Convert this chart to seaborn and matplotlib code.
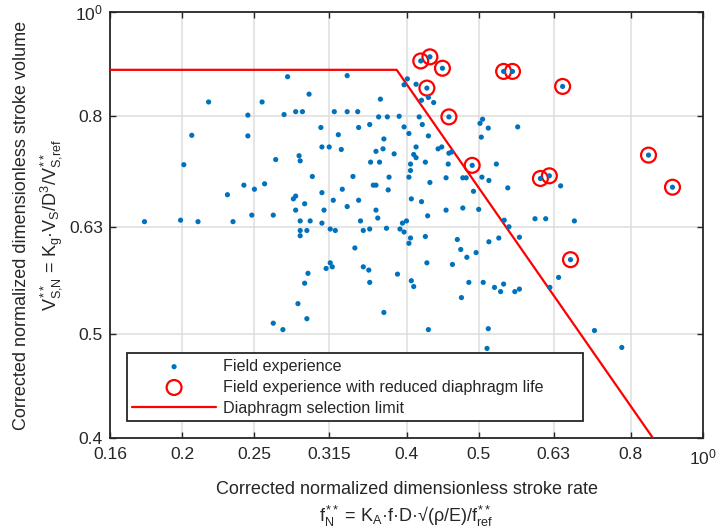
import numpy as np
import pandas as pd
import matplotlib
matplotlib.use("Agg")
import matplotlib.pyplot as plt
import seaborn as sns
from matplotlib.ticker import FixedLocator, FixedFormatter, NullLocator

# ---------------- data ----------------
field_x = [0.277, 0.296, 0.217, 0.256, 0.245, 0.274, 0.284, 0.290, 0.206, 0.245,
           0.287, 0.288, 0.267, 0.201, 0.242, 0.258, 0.250, 0.230, 0.282, 0.284,
           0.292, 0.284, 0.248, 0.265, 0.178, 0.199, 0.210, 0.234, 0.288, 0.288,
           0.294, 0.288, 0.295, 0.292, 0.286, 0.294, 0.265, 0.273, 0.297,
           0.333, 0.369, 0.320, 0.333, 0.344, 0.367, 0.377, 0.391, 0.401, 0.397,
           0.412, 0.419, 0.428, 0.435, 0.416, 0.420, 0.307, 0.345, 0.357, 0.324,
           0.373, 0.397, 0.403, 0.428, 0.308, 0.315, 0.327, 0.364, 0.372, 0.385,
           0.412, 0.409, 0.412, 0.441, 0.446, 0.456, 0.460, 0.358, 0.368, 0.405,
           0.405, 0.424, 0.455, 0.528, 0.502, 0.506, 0.515, 0.504, 0.299, 0.339,
           0.379, 0.403, 0.452, 0.476, 0.481, 0.505, 0.516, 0.361, 0.364, 0.328,
           0.378, 0.430, 0.492, 0.547, 0.308, 0.319, 0.345, 0.406, 0.419, 0.333,
           0.310, 0.364, 0.366, 0.427, 0.452, 0.476, 0.500, 0.308, 0.347, 0.400,
           0.395, 0.316, 0.321, 0.350, 0.357, 0.376, 0.392, 0.397, 0.405, 0.403,
           0.424, 0.468, 0.516, 0.532, 0.549, 0.341, 0.473,
           0.316, 0.312, 0.318, 0.350, 0.356, 0.357, 0.389, 0.373, 0.426, 0.406,
           0.409, 0.428, 0.482, 0.496, 0.461, 0.485, 0.474, 0.507, 0.525, 0.535,
           0.540, 0.515, 0.513, 0.567, 0.541, 0.595, 0.615, 0.672, 0.640, 0.623,
           0.559, 0.567, 0.715, 0.778, 0.564, 0.644,
           0.418, 0.430, 0.447, 0.426, 0.456, 0.490, 0.540, 0.555, 0.648, 0.605,
           0.622, 0.845, 0.910, 0.664]
field_y = [0.870, 0.838, 0.824, 0.824, 0.801, 0.802, 0.807, 0.807, 0.767, 0.766,
           0.734, 0.726, 0.728, 0.720, 0.689, 0.691, 0.683, 0.675, 0.669, 0.673,
           0.662, 0.653, 0.646, 0.646, 0.637, 0.639, 0.637, 0.637, 0.638, 0.625,
           0.625, 0.618, 0.570, 0.558, 0.534, 0.517, 0.512, 0.505, 0.638,
           0.872, 0.829, 0.807, 0.807, 0.807, 0.798, 0.798, 0.799, 0.866, 0.855,
           0.856, 0.827, 0.832, 0.823, 0.798, 0.785, 0.780, 0.780, 0.785, 0.768,
           0.761, 0.781, 0.770, 0.766, 0.748, 0.748, 0.744, 0.741, 0.745, 0.737,
           0.748, 0.736, 0.731, 0.745, 0.748, 0.738, 0.740, 0.724, 0.724, 0.721,
           0.711, 0.724, 0.721, 0.721, 0.787, 0.794, 0.779, 0.764, 0.702, 0.702,
           0.701, 0.701, 0.700, 0.700, 0.700, 0.701, 0.696, 0.689, 0.689, 0.683,
           0.682, 0.693, 0.680, 0.685, 0.678, 0.667, 0.667, 0.669, 0.665, 0.658,
           0.653, 0.653, 0.642, 0.645, 0.653, 0.656, 0.654, 0.635, 0.638, 0.638,
           0.635, 0.627, 0.625, 0.625, 0.627, 0.628, 0.627, 0.623, 0.615, 0.608,
           0.617, 0.613, 0.610, 0.615, 0.630, 0.602, 0.600,
           0.583, 0.576, 0.578, 0.578, 0.574, 0.559, 0.569, 0.524, 0.583, 0.561,
           0.554, 0.505, 0.590, 0.596, 0.581, 0.559, 0.541, 0.559, 0.553, 0.548,
           0.557, 0.506, 0.485, 0.616, 0.639, 0.641, 0.641, 0.638, 0.565, 0.553,
           0.548, 0.551, 0.504, 0.486, 0.781, 0.688,
           0.900, 0.908, 0.886, 0.849, 0.798, 0.719, 0.880, 0.880, 0.852, 0.699,
           0.703, 0.735, 0.686, 0.587]

reduced_x = [0.418, 0.430, 0.447, 0.426, 0.456, 0.490, 0.540, 0.555, 0.648, 0.605,
             0.622, 0.845, 0.910, 0.664]
reduced_y = [0.900, 0.908, 0.886, 0.849, 0.798, 0.719, 0.880, 0.880, 0.852, 0.699,
             0.703, 0.735, 0.686, 0.587]

limit_x = [0.16, 0.388, 1.0]
limit_y = [0.883, 0.883, 0.3426]

x_ticks = [0.16, 0.2, 0.25, 0.315, 0.4, 0.5, 0.63, 0.8, 1.0]
x_tick_labels = ["0.16", "0.2", "0.25", "0.315", "0.4", "0.5", "0.63", "0.8", "$10^0$"]
y_ticks = [0.4, 0.5, 0.63, 0.8, 1.0]
y_tick_labels = ["0.4", "0.5", "0.63", "0.8", "$10^0$"]

labels = ["Field experience", "Field experience with reduced diaphragm life",
          "Diaphragm selection limit"]

x_label = ("Corrected normalized dimensionless stroke rate\n"
           r"$f_N^{**}$ = $K_A$·f·D·√(ρ/E)/$f_{ref}^{**}$")
y_label = ("Corrected normalized dimensionless stroke volume\n"
           r"$V_{S{,}N}^{**}$ = $K_g$·$V_S$/D$^3$/$V_{S{,}ref}^{**}$")

# ---------------- style ----------------
sns.set_theme(style="white")
plt.rcParams["font.family"] = ["Liberation Sans", "DejaVu Sans"]
plt.rcParams["mathtext.fontset"] = "custom"
plt.rcParams["mathtext.rm"] = "Liberation Sans"
plt.rcParams["mathtext.it"] = "Liberation Sans"
plt.rcParams["mathtext.bf"] = "Liberation Sans:bold"
plt.rcParams["mathtext.sf"] = "Liberation Sans"

FS_TICK = 12.6
FS_LABEL = 13.0
FS_LEG = 11.6
BLUE = "#0072BD"
RED = "#FF0000"
DARK = "#262626"

fig = plt.figure(figsize=(7.17, 5.32), dpi=100)
ax = fig.add_axes([0.1534, 0.1767, 0.8271, 0.8008])

df_field = pd.DataFrame({"x": field_x, "y": field_y})
df_red = pd.DataFrame({"x": reduced_x, "y": reduced_y})
df_lim = pd.DataFrame({"x": limit_x, "y": limit_y})

sns.lineplot(data=df_lim, x="x", y="y", ax=ax, color=RED, linewidth=1.6,
             sort=False, estimator=None, label=labels[2], zorder=3)
sns.scatterplot(data=df_red, x="x", y="y", ax=ax, s=115, marker="o",
                facecolors="none", edgecolor=RED, linewidth=1.6,
                label=labels[1], zorder=4)
sns.scatterplot(data=df_field, x="x", y="y", ax=ax, s=14, color=BLUE,
                edgecolor="none", linewidth=0, label=labels[0], zorder=5)

ax.set_xscale("log")
ax.set_yscale("log")
ax.set_xlim(0.16, 1.0)
ax.set_ylim(0.4, 1.0)
ax.xaxis.set_major_locator(FixedLocator(x_ticks))
ax.xaxis.set_major_formatter(FixedFormatter(x_tick_labels))
ax.yaxis.set_major_locator(FixedLocator(y_ticks))
ax.yaxis.set_major_formatter(FixedFormatter(y_tick_labels))
ax.xaxis.set_minor_locator(NullLocator())
ax.yaxis.set_minor_locator(NullLocator())

ax.grid(True, color="#dedede", linewidth=1.1)
ax.set_axisbelow(True)
for sp in ax.spines.values():
    sp.set_visible(True)
    sp.set_color(DARK)
    sp.set_linewidth(1.3)
ax.tick_params(axis="both", which="major", direction="in", length=4.5, width=1.0,
               color=DARK, labelsize=FS_TICK, labelcolor=DARK,
               top=True, right=True, bottom=True, left=True, pad=5)
ax.tick_params(axis="x", pad=6.5)

ax.set_xlabel(x_label, fontsize=FS_LABEL, color=DARK, linespacing=1.33, labelpad=10)
ax.set_ylabel(y_label, fontsize=FS_LABEL, color=DARK, linespacing=1.5, labelpad=3.5)

h, l = ax.get_legend_handles_labels()
order = [l.index(t) for t in labels]
x0 = 0.0282
w = 0.769
leg = ax.legend([h[i] for i in order], [l[i] for i in order],
                loc="lower left", bbox_to_anchor=(x0, 0.0399, w, 0.2),
                mode="expand", borderaxespad=0, fontsize=FS_LEG, frameon=True,
                fancybox=False, framealpha=1, edgecolor=DARK, handlelength=5.2,
                labelspacing=0.36, borderpad=0.34, handletextpad=0.45)
leg.get_frame().set_linewidth(1.3)
for t in leg.get_texts():
    t.set_color(DARK)

fig.savefig("out.png", dpi=100)
